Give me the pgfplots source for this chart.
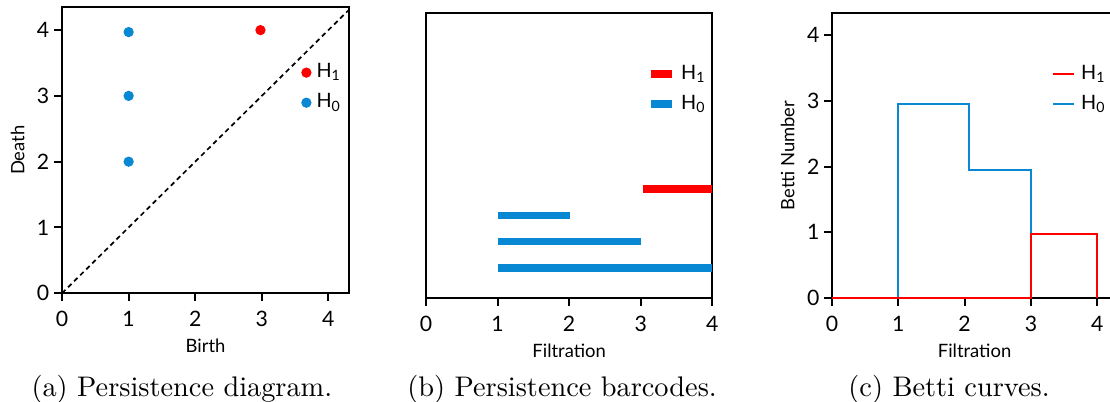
\documentclass[border=0pt]{standalone}
\usepackage{fontspec}
\setsansfont{Lato}
\usepackage{pgfplots}
\pgfplotsset{compat=1.18}

\definecolor{hzero}{RGB}{8,136,210}
\definecolor{hone}{RGB}{255,0,0}

% 1 px of the reference = 0.353pt
\pgfplotsset{
  tdastyle/.style={
    scale only axis,
    font=\sffamily,
    axis line style={line width=0.8pt},
    tick style={line width=0.7pt, black},
    tick align=outside,
    major tick length=2.8pt,
    tick pos=left,
    ticklabel style={font=\sffamily\fontsize{7.5}{8}\selectfont},
    yticklabel style={inner sep=1.5pt},
    label style={font=\sffamily\fontsize{6.5}{7}\selectfont},
    /pgf/number format/assume math mode=true,
    legend style={draw=none, fill=none, font=\sffamily\fontsize{7}{8}\selectfont,
      row sep=0.1pt, inner sep=0pt},
    legend cell align=left,
    clip=true,
  },
}

\begin{document}
\begin{tikzpicture}
% (a) persistence diagram
\begin{axis}[tdastyle,
    at={(21.9pt,38.1pt)}, anchor=south west,
    width=101.3pt, height=101pt,
    xmin=0, xmax=4.31, ymin=0, ymax=4.35,
    xtick={0,1,2,3,4}, ytick={0,1,2,3,4},
    xlabel={Birth}, ylabel={Death},
    xlabel style={yshift=2.5pt}, ylabel style={yshift=-0.6pt},
    legend style={at={(0.995,0.825)}, anchor=north east},
    legend image post style={mark size=1.6pt},
]
\addplot[only marks, mark=*, mark size=1.6pt, hone, mark options={draw=hone, fill=hone}]
  coordinates {(2.98,4.0)};
\addlegendentry{H\textsubscript{1}}
\addplot[only marks, mark=*, mark size=1.6pt, hzero, mark options={draw=hzero, fill=hzero}]
  coordinates {(1,3.97) (1,3.0) (1,2.0)};
\addlegendentry{H\textsubscript{0}}
\addplot[black, line width=0.6pt, dash pattern=on 1.7pt off 1.3pt, forget plot]
  coordinates {(0,0) (4.4,4.4)};
\end{axis}

% (b) persistence barcodes
\begin{axis}[tdastyle,
    at={(150.4pt,36.4pt)}, anchor=south west,
    width=101pt, height=100.6pt,
    xmin=0, xmax=4, ymin=-0.15, ymax=10.7,
    xtick={0,1,2,3,4}, ytick=\empty,
    xlabel={Filtration},
    xlabel style={yshift=2.5pt},
    legend style={at={(1.0,0.84)}, anchor=north east},
    legend image code/.code={\draw[#1, line width=2.6pt] (0pt,0pt) -- (7.5pt,0pt);},
]
\addplot[hone, line width=2.6pt] coordinates {(3.03,4) (4,4)};
\addlegendentry{H\textsubscript{1}}
\addplot[hzero, line width=2.6pt] coordinates {(1,3) (2.01,3)};
\addlegendentry{H\textsubscript{0}}
\addplot[hzero, line width=2.6pt, forget plot] coordinates {(1,2) (3.01,2)};
\addplot[hzero, line width=2.6pt, forget plot] coordinates {(1,1) (4,1)};
\end{axis}

% (c) Betti curves
\begin{axis}[tdastyle,
    at={(293.7pt,36.4pt)}, anchor=south west,
    width=100.6pt, height=100.6pt,
    xmin=0, xmax=4.3, ymin=0, ymax=4.34,
    xtick={0,1,2,3,4}, ytick={0,1,2,3,4},
    xlabel={Filtration}, ylabel={Betti Number},
    xlabel style={yshift=2.5pt}, ylabel style={yshift=-0.6pt},
    clip=false,
    legend style={at={(0.77,0.84)}, anchor=north west},
    legend image code/.code={\draw[#1, line width=0.75pt] (0pt,0pt) -- (7.5pt,0pt);},
]
\addlegendimage{hone}
\addlegendentry{H\textsubscript{1}}
\addlegendimage{hzero}
\addlegendentry{H\textsubscript{0}}
\addplot[hzero, line width=0.75pt]
  coordinates {(0,0) (1,0) (1,2.95) (2.07,2.95) (2.07,1.95) (3,1.95) (3,0.97) (4,0.97) (4,0)};
\addplot[hone, line width=0.75pt]
  coordinates {(0,0) (3,0) (3,0.97) (4,0.97) (4,0)};
\end{axis}

% captions
\node[anchor=base, font=\fontsize{10}{12}\selectfont] at (64.2pt,1.6pt) {(a) Persistence diagram.};
\node[anchor=base, font=\fontsize{10}{12}\selectfont] at (198.4pt,1.6pt) {(b) Persistence barcodes.};
\node[anchor=base, font=\fontsize{10}{12}\selectfont] at (335pt,1.6pt) {(c) Betti curves.};

\pgfresetboundingbox
\path (0pt,0pt) rectangle (391.8pt,141.6pt);
\end{tikzpicture}
\end{document}
